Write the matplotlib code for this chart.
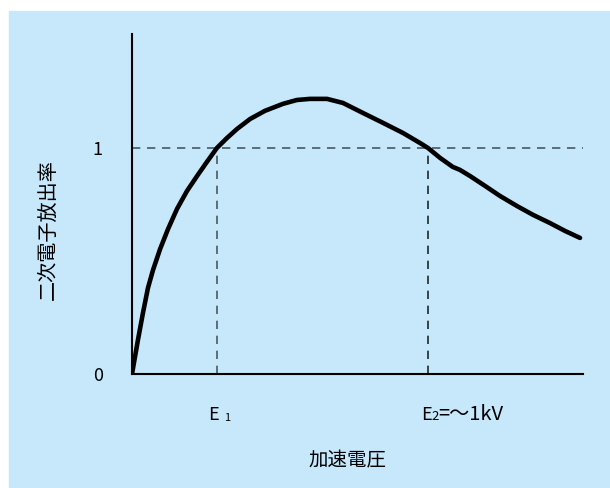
import matplotlib
matplotlib.use('Agg')
import matplotlib.pyplot as plt
from matplotlib.patches import Rectangle

plt.rcParams['font.family'] = ['Noto Sans CJK JP', 'DejaVu Sans']

# accelerating voltage (E2 = 1) vs secondary emission yield
voltage = [0, 0.020, 0.037, 0.054, 0.071, 0.095, 0.122, 0.152, 0.186, 0.220,
           0.253, 0.287, 0.321, 0.355, 0.399, 0.449, 0.510, 0.557, 0.601,
           0.659, 0.713, 0.780, 0.848, 0.916, 0.973, 1.0, 1.041, 1.084,
           1.108, 1.142, 1.193, 1.243, 1.301, 1.355, 1.412, 1.463, 1.514]
yield_ = [0, 0.150, 0.270, 0.381, 0.460, 0.553, 0.642, 0.730, 0.810, 0.876,
          0.938, 1.0, 1.044, 1.084, 1.128, 1.164, 1.195, 1.212, 1.217,
          1.217, 1.199, 1.155, 1.111, 1.066, 1.022, 1.0, 0.956, 0.916,
          0.903, 0.876, 0.832, 0.788, 0.743, 0.704, 0.668, 0.633, 0.602]
e1 = 0.287
e2 = 1.0
x_max = 1.524
y_max = 1.504
bg = '#c6e8fa'

W, H = 610, 488
fig = plt.figure(figsize=(W / 100, H / 100), dpi=100)
fig.patches.append(Rectangle((9 / W, 0), 1 - 9 / W, 1 - 11 / H,
                             transform=fig.transFigure, color=bg, zorder=-10))

ax = fig.add_axes([132 / W, 114 / H, 451 / W, 340 / H])
ax.set_facecolor('none')
ax.set_xlim(0, x_max)
ax.set_ylim(0, y_max)
for s in ['top', 'right']:
    ax.spines[s].set_visible(False)
for s in ['left', 'bottom']:
    ax.spines[s].set_linewidth(1.5)
    ax.spines[s].set_color('black')
ax.spines['left'].set_zorder(5)

ax.axhline(1, color='#4a5a62', lw=1.2, ls=(0, (5, 4)), zorder=1)
ax.plot([e1, e1], [0, 1], color='#4a5a62', lw=1.2, ls=(0, (5, 4)), zorder=1)
ax.plot([e2, e2], [0, 1], color='#1a2a30', lw=1.2, ls=(0, (5, 4)), zorder=1)

ax.plot(voltage, yield_, color='black', lw=3.3, solid_capstyle='round',
        solid_joinstyle='round', zorder=3)

ax.set_xticks([])
ax.set_yticks([0, 1])
ax.set_yticklabels(['0', '1'], fontsize=13)
ax.tick_params(axis='y', length=0, pad=21, colors='black')


def ftext(x, y, s, **kw):
    fig.text(x / W, 1 - y / H, s, **kw)


ftext(208, 415, 'E', fontsize=13, va='center', ha='left')
ftext(224, 418, '1', fontsize=8, va='center', ha='left')
ftext(421, 415, 'E', fontsize=13, va='center', ha='left')
ftext(431, 417, '2', fontsize=9.5, va='center', ha='left')
ftext(438, 415, '=～1kV', fontsize=14.5, va='center', ha='left')
ftext(347, 461, '加速電圧', fontsize=14, va='center', ha='center')
ftext(48, 230, '二次電子放出率', fontsize=14.5, va='center', ha='center',
      rotation=90)

fig.savefig('out.png', dpi=100)
